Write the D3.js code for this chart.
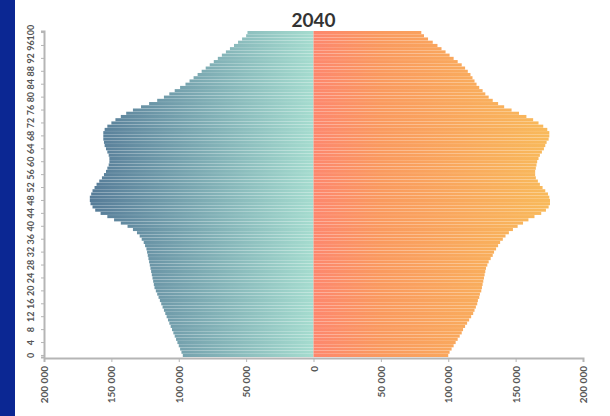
<!DOCTYPE html>
<html>
<head>
<meta charset="utf-8">
<script src="https://cdn.jsdelivr.net/npm/d3@7"></script>
<style>
  html, body { margin: 0; padding: 0; background: #fff; }
  svg { display: block; }
</style>
</head>
<body>
<div id="chart"></div>
<script>
// age pyramid for 2040, single years 0..100, men left / women right
const ages = d3.range(0, 101);
const men = [
  97000, 98000, 99000, 100000, 101000, 102000, 103000, 104000, 105000, 106000,
  107000, 108000, 109000, 110000, 111000, 112000, 113000, 114000, 115000, 116000,
  117000, 118000, 118500, 119000, 119500, 120000, 120500, 121000, 121500, 122000,
  122500, 123000, 123500, 124000, 125000, 126000, 127500, 129000, 131000, 134000,
  138000, 143000, 148000, 153000, 158000, 162000, 164000, 165500, 166000, 166000,
  165000, 164000, 162500, 161000, 159000, 157000, 155500, 154000, 153000, 152000,
  151500, 151500, 152000, 153000, 154000, 155000, 155500, 156000, 156000, 156000,
  155000, 153000, 150000, 147000, 143000, 139000, 134000, 128000, 122000, 116000,
  111000, 107000, 103000, 99000, 95000, 92000, 89000, 86000, 83000, 80000,
  77000, 74000, 71000, 68000, 65000, 62000, 59000, 56000, 53000, 50000,
  49000
];
const women = [
  100000, 101000, 102500, 104000, 105500, 107000, 108500, 110000, 111000, 112500,
  114000, 115500, 117000, 118500, 119500, 120500, 121500, 122000, 123000, 123500,
  124500, 125000, 125500, 126000, 126500, 127000, 127500, 128000, 129000, 130000,
  131500, 133000, 134000, 135500, 137000, 138500, 140500, 142500, 145000, 148000,
  151500, 155500, 159500, 164000, 169000, 172500, 174500, 175500, 175500, 175000,
  174000, 172000, 170000, 168000, 166500, 165000, 164500, 164500, 165000, 165500,
  166000, 167000, 168000, 169500, 171000, 172000, 173000, 174500, 175000, 175000,
  173500, 170500, 167000, 163000, 158000, 152500, 147000, 141500, 137000, 133000,
  130000, 127500, 125500, 123000, 121000, 119500, 118000, 116500, 114500, 112500,
  110000, 107000, 104000, 101000, 98000, 95000, 92000, 88500, 85000, 82000,
  80000
];
const xTicks = [-200000, -150000, -100000, -50000, 0, 50000, 100000, 150000, 200000];
const yTicks = d3.range(0, 101, 4);
const title = '2040';

const width = 610;
const height = 416;
const margin = { left: 44, right: 27, top: 31, bottom: 59 };

const svg = d3.select('#chart')
  .append('svg')
  .attr('width', width)
  .attr('height', height);

// dark blue strip on the left edge
svg.append('rect')
  .attr('x', 0).attr('y', 0)
  .attr('width', 15).attr('height', height)
  .attr('fill', '#0b2793');

const x = d3.scaleLinear()
  .domain([-200000, 200000])
  .range([margin.left, width - margin.right]);
const y = d3.scaleBand()
  .domain(ages)
  .range([height - margin.bottom, margin.top])
  .paddingInner(0.04);

const defs = svg.append('defs');
const gradLeft = defs.append('linearGradient')
  .attr('id', 'grad-men')
  .attr('gradientUnits', 'userSpaceOnUse')
  .attr('x1', x(-200000)).attr('x2', x(0))
  .attr('y1', 0).attr('y2', 0);
gradLeft.append('stop').attr('offset', '0%').attr('stop-color', '#45678c');
gradLeft.append('stop').attr('offset', '100%').attr('stop-color', '#a5dccf');
const gradRight = defs.append('linearGradient')
  .attr('id', 'grad-women')
  .attr('gradientUnits', 'userSpaceOnUse')
  .attr('x1', x(0)).attr('x2', x(200000))
  .attr('y1', 0).attr('y2', 0);
gradRight.append('stop').attr('offset', '0%').attr('stop-color', '#fd876e');
gradRight.append('stop').attr('offset', '25%').attr('stop-color', '#fa9a5f');
gradRight.append('stop').attr('offset', '100%').attr('stop-color', '#f8c05a');

const bars = svg.append('g');
bars.selectAll('.men')
  .data(ages)
  .join('rect')
  .attr('class', 'men')
  .attr('x', (a) => x(-men[a]))
  .attr('y', (a) => y(a))
  .attr('width', (a) => x(0) - x(-men[a]))
  .attr('height', y.bandwidth())
  .attr('fill', 'url(#grad-men)');
bars.selectAll('.women')
  .data(ages)
  .join('rect')
  .attr('class', 'women')
  .attr('x', x(0))
  .attr('y', (a) => y(a))
  .attr('width', (a) => x(women[a]) - x(0))
  .attr('height', y.bandwidth())
  .attr('fill', 'url(#grad-women)');

const fmt = (v) => d3.format(',')(Math.abs(v)).replace(/,/g, ' ');

// x axis
const xAxis = svg.append('g')
  .attr('transform', `translate(0, ${height - margin.bottom + 1})`)
  .call(d3.axisBottom(x).tickValues(xTicks).tickFormat(fmt).tickSize(4));
xAxis.select('.domain').attr('stroke', '#b5b5b5').attr('stroke-width', 2);
xAxis.selectAll('.tick line').attr('stroke', '#b5b5b5');
xAxis.selectAll('.tick text')
  .attr('transform', 'rotate(-90)')
  .attr('text-anchor', 'end')
  .attr('x', -8)
  .attr('y', 0)
  .attr('dy', '0.35em')
  .attr('fill', '#555')
  .attr('font-family', 'Lato, sans-serif')
  .attr('font-weight', 'bold')
  .attr('font-size', 10);

// y axis
const yAxis = svg.append('g')
  .attr('transform', `translate(${margin.left}, 0)`)
  .call(d3.axisLeft(y).tickValues(yTicks).tickSize(3));
yAxis.select('.domain').attr('stroke', '#b5b5b5').attr('stroke-width', 2);
yAxis.selectAll('.tick line').attr('stroke', '#b5b5b5');
yAxis.selectAll('.tick text')
  .attr('transform', 'rotate(-90)')
  .attr('text-anchor', 'middle')
  .attr('x', 0)
  .attr('y', -13)
  .attr('dy', '0.35em')
  .attr('fill', '#555')
  .attr('font-family', 'Lato, sans-serif')
  .attr('font-weight', 'bold')
  .attr('font-size', 9);

svg.append('text')
  .attr('x', x(0))
  .attr('y', 27)
  .attr('text-anchor', 'middle')
  .attr('font-family', 'Lato, sans-serif')
  .attr('font-weight', 'bold')
  .attr('font-size', 19)
  .attr('fill', '#333')
  .text(title);
</script>
</body>
</html>
